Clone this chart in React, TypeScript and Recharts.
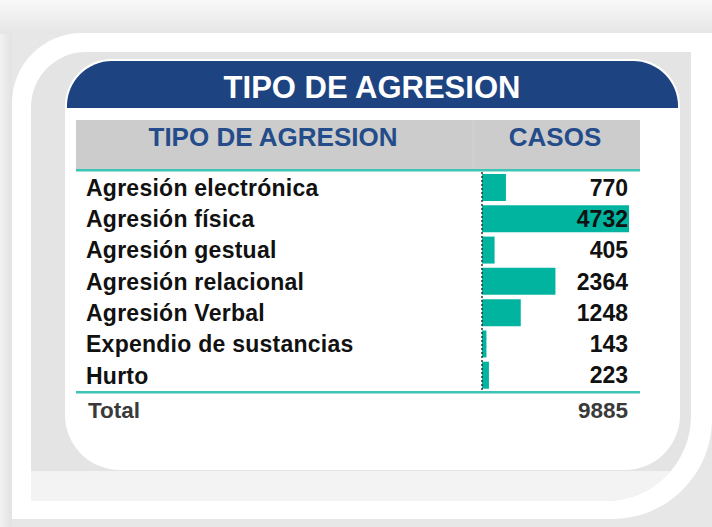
import React from "react";
import { BarChart, Bar, XAxis, YAxis, LabelList } from "recharts";

const categories = [
  "Agresión electrónica",
  "Agresión física",
  "Agresión gestual",
  "Agresión relacional",
  "Agresión Verbal",
  "Expendio de sustancias",
  "Hurto",
];
const casos = [770, 4732, 405, 2364, 1248, 143, 223];
const title = "TIPO DE AGRESION";
const colHeaders = ["TIPO DE AGRESION", "CASOS"];
const totalLabel = "Total";

const data = categories.map((tipo, i) => ({ tipo, casos: casos[i] }));
const total = casos.reduce((a, b) => a + b, 0);

const FONT = "'Liberation Sans', Arial, sans-serif";
const TEAL = "#00b4a0";
const LINE_TEAL = "#3cc4b4";
const BLUE = "#1e4381";

const LABEL_X = 86;
const VALUE_X = 628;

const CategoryTick = (props: any) => {
  const { y, payload } = props;
  return (
    <text
      x={LABEL_X}
      y={y}
      dy="0.36em"
      textAnchor="start"
      fontFamily={FONT}
      fontWeight="bold"
      fontSize={23}
      letterSpacing={0.25}
      fill="#111"
    >
      {payload.value}
    </text>
  );
};

const ValueLabel = (props: any) => {
  const { y, height, value } = props;
  return (
    <text
      x={VALUE_X}
      y={y + height / 2}
      dy="0.36em"
      textAnchor="end"
      fontFamily={FONT}
      fontWeight="bold"
      fontSize={23}
      fill="#111"
    >
      {value}
    </text>
  );
};

const Background = () => (
  <svg width={712} height={527} style={{ position: "absolute", left: 0, top: 0 }}>
    <defs>
      <linearGradient id="topg" x1="0" y1="0" x2="0" y2="1">
        <stop offset="0" stopColor="#f8f8f8" />
        <stop offset="1" stopColor="#e6e6e6" />
      </linearGradient>
      <linearGradient id="leftg" x1="0" y1="0" x2="1" y2="0">
        <stop offset="0" stopColor="#f2f2f2" />
        <stop offset="1" stopColor="#e2e2e2" />
      </linearGradient>
      <clipPath id="innerClip">
        <path d="M31 107 A55 55 0 0 1 86 52 L691 52 L691 416 A85 85 0 0 1 606 501 L31 501 Z" />
      </clipPath>
    </defs>
    <rect x={0} y={0} width={712} height={527} fill="#e7e7e7" />
    <rect x={0} y={0} width={712} height={34} fill="url(#topg)" />
    <rect x={0} y={34} width={12} height={493} fill="url(#leftg)" />
    <path
      d="M12 103 A70 70 0 0 1 82 33 L712 33 L712 419 A100 100 0 0 1 612 519 L12 519 Z"
      fill="#ffffff"
    />
    <path
      d="M31 107 A55 55 0 0 1 86 52 L691 52 L691 416 A85 85 0 0 1 606 501 L31 501 Z"
      fill="#e4e4e4"
    />
    <rect x={31} y={471} width={670} height={31} fill="#f3f3f3" clipPath="url(#innerClip)" />
    <path
      d="M65 106 A47 47 0 0 1 112 59 L633 59 A47 47 0 0 1 680 106 L680 415 A55 55 0 0 1 625 470 L120 470 A55 55 0 0 1 65 415 Z"
      fill="#ffffff"
    />
    <path d="M67 108 L67 106 A45 45 0 0 1 112 61 L633 61 A45 45 0 0 1 678 106 L678 108 Z" fill={BLUE} />
    <text
      x={372}
      y={98}
      textAnchor="middle"
      fontFamily={FONT}
      fontWeight="bold"
      fontSize={31}
      fill="#ffffff"
    >
      {title}
    </text>
    <rect x={76} y={120} width={564} height={50} fill="#cccccc" />
    <line x1={473} y1={120} x2={473} y2={170} stroke="#d3d3d3" strokeWidth={1} />
    <text x={273} y={146} textAnchor="middle" fontFamily={FONT} fontWeight="bold" fontSize={26} fill="#244c8a">
      {colHeaders[0]}
    </text>
    <text x={555} y={146} textAnchor="middle" fontFamily={FONT} fontWeight="bold" fontSize={26} fill="#244c8a">
      {colHeaders[1]}
    </text>
    <rect x={76} y={169} width={564} height={2.5} fill={LINE_TEAL} />
    <rect x={76} y={391} width={564} height={2.5} fill={LINE_TEAL} />
    <text x={88} y={418} fontFamily={FONT} fontWeight="bold" fontSize={22.5} fill="#3a3a3a">
      {totalLabel}
    </text>
    <text x={VALUE_X} y={418} textAnchor="end" fontFamily={FONT} fontWeight="bold" fontSize={22.5} fill="#3a3a3a">
      {total}
    </text>
  </svg>
);

export default function App() {
  return (
    <div style={{ position: "absolute", left: 0, top: 0, width: 712, height: 527, overflow: "hidden" }}>
      <Background />
      <div style={{ position: "absolute", left: 0, top: 0 }}>
        <BarChart
          width={712}
          height={527}
          data={data}
          layout="vertical"
          margin={{ top: 172, right: 83, bottom: 136, left: 0 }}
          barCategoryGap={2}
        >
          <XAxis type="number" domain={[0, 4732]} hide />
          <YAxis
            type="category"
            dataKey="tipo"
            width={482}
            tickLine={false}
            axisLine={{ stroke: "#333", strokeDasharray: "2 2", strokeWidth: 1.5 }}
            tick={<CategoryTick />}
            interval={0}
          />
          <Bar dataKey="casos" fill={TEAL} isAnimationActive={false}>
            <LabelList dataKey="casos" content={<ValueLabel />} />
          </Bar>
        </BarChart>
      </div>
    </div>
  );
}
